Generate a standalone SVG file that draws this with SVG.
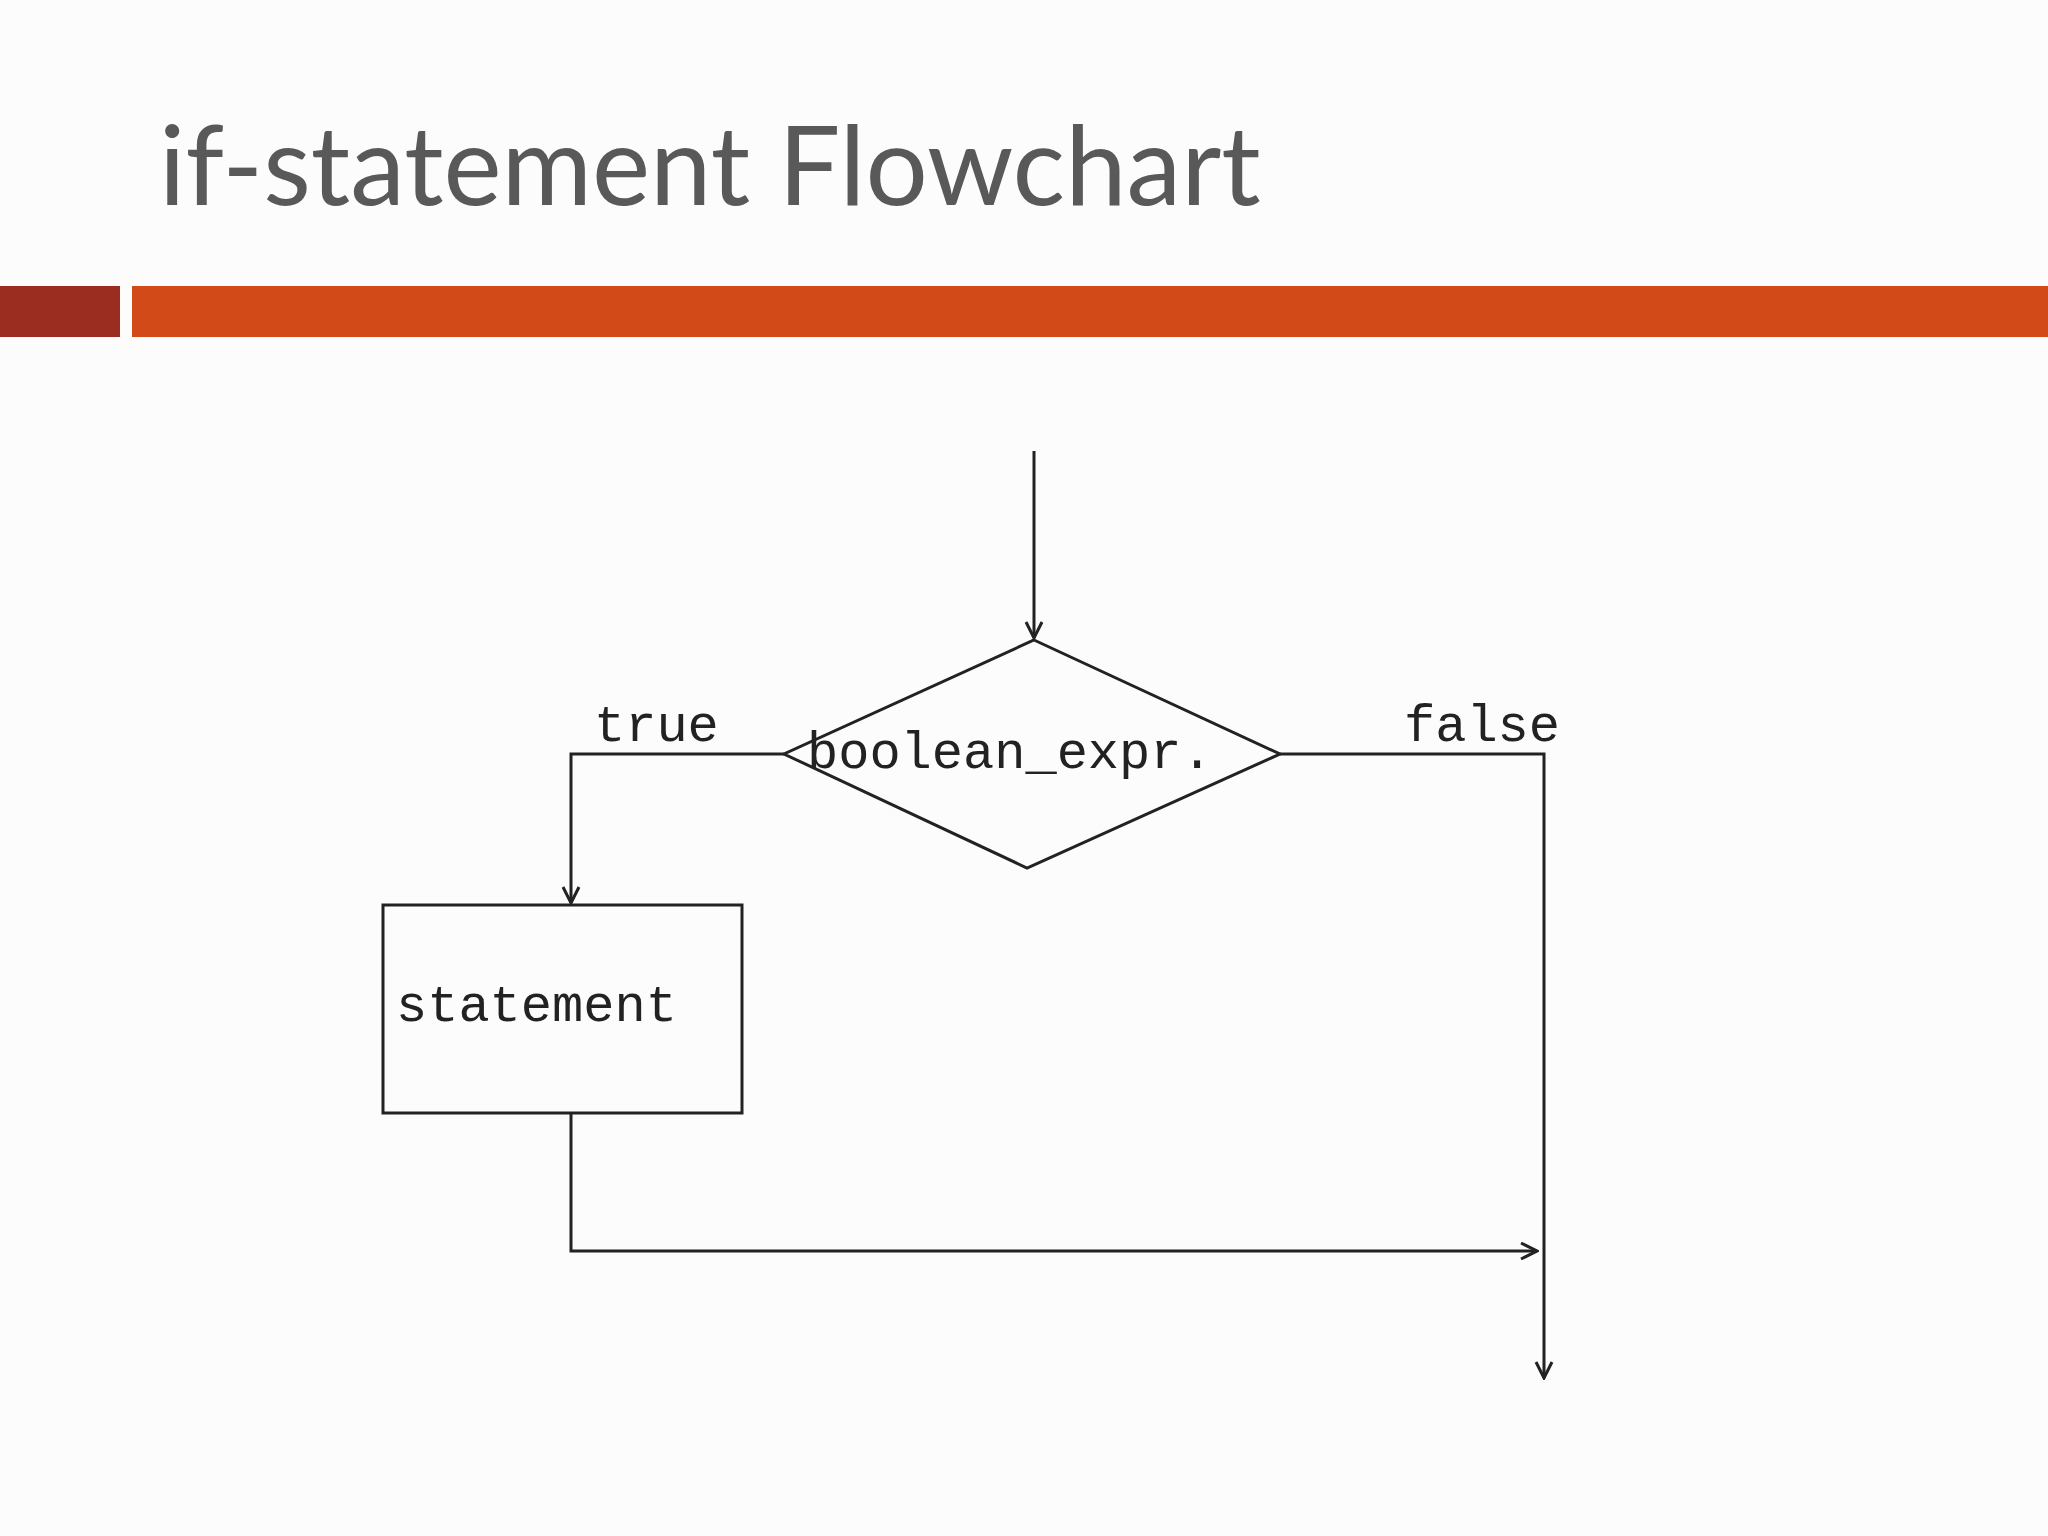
<svg xmlns="http://www.w3.org/2000/svg" width="2048" height="1536" viewBox="0 0 2048 1536">
<style>
.ln{fill:none;stroke:#222;stroke-width:3}
.mono{font-family:"Liberation Mono","DejaVu Sans Mono",monospace;font-size:52px;fill:#222}
</style>
<defs>
<marker id="ah" viewBox="0 0 20 20" refX="18" refY="10" markerWidth="20" markerHeight="20" markerUnits="userSpaceOnUse" orient="auto">
<path d="M2,2 L18,10 L2,18" fill="none" stroke="#222" stroke-width="3"/>
</marker>
</defs>
<rect width="2048" height="1536" fill="#fdfcfd"/>
<text x="159" y="205" font-family="Lato, 'Open Sans', sans-serif" font-size="110" fill="#595959">if-statement Flowchart</text>
<rect x="0" y="286" width="120" height="51" fill="#9b2d20"/>
<rect x="132" y="286" width="1916" height="51" fill="#d24a18"/>
<g id="decision">
<polygon class="ln" points="1034,640 1280,754 1027,868 784,754"/>
<text class="mono" x="807" y="768">boolean_expr.</text>
</g>
<g id="statement">
<rect class="ln" x="383" y="905" width="359" height="208"/>
<text class="mono" x="396" y="1021">statement</text>
</g>
<g id="connectors">
<path class="ln" d="M1034,451 V638" marker-end="url(#ah)"/>
<path class="ln" d="M784,754 H571 V903" marker-end="url(#ah)"/>
<path class="ln" d="M1280,754 H1544 V1378" marker-end="url(#ah)"/>
<path class="ln" d="M571,1113 V1251 H1537" marker-end="url(#ah)"/>
<text class="mono" x="594" y="741">true</text>
<text class="mono" x="1404" y="741">false</text>
</g>
</svg>
